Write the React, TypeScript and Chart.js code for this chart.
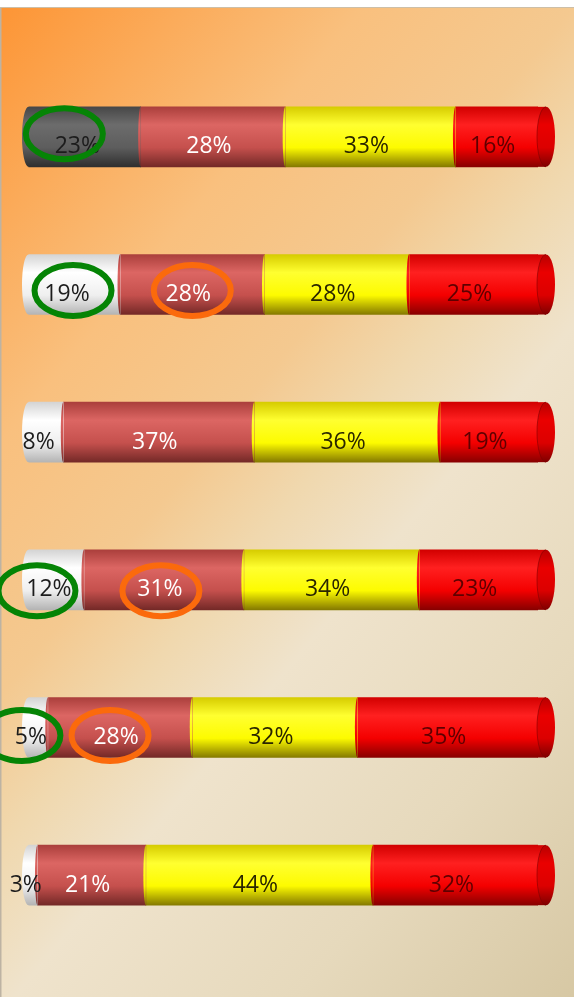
import React, { useEffect, useRef } from 'react';
import { Chart, registerables } from 'chart.js';

Chart.register(...registerables);

// ---- data ----
const categories = ['Row 1', 'Row 2', 'Row 3', 'Row 4', 'Row 5', 'Row 6'];
const seriesNames = ['Series 1', 'Series 2', 'Series 3', 'Series 4'];
const series1 = [23, 19, 8, 12, 5, 3];
const series2 = [28, 28, 37, 31, 28, 21];
const series3 = [33, 28, 36, 34, 32, 44];
const series4 = [16, 25, 19, 23, 35, 32];
const allSeries = [series1, series2, series3, series4];

// ---- styles ----
const SHADES: Record<string, string[]> = {
  gray: ['#474747', '#6c6c6c', '#5d5d5d', '#2f2f2f'],
  white: ['#d4d4d4', '#ffffff', '#efefef', '#b4b4b4'],
  indian: ['#ab3f3c', '#dc6663', '#c5504d', '#742927'],
  yellow: ['#d6cc00', '#ffff30', '#fdfb00', '#857a00'],
  red: ['#d20000', '#ff2020', '#f40000', '#880000'],
};
const CAP_SHADE = ['#b80000', '#ea0000', '#dc0000', '#7e0000'];
const firstSegmentShade = ['gray', 'white', 'white', 'white', 'white', 'white'];
const otherSegmentShade = ['indian', 'yellow', 'red'];
const LABEL_COLOR: Record<string, string> = {
  gray: '#1c1c1c',
  white: '#1c1c1c',
  indian: '#ffffff',
  yellow: '#2a2600',
  red: '#5e0000',
};
const GREEN = '#058405';
const ORANGE = '#fb6a0c';
// annotation rings drawn around selected value labels
const highlights = [
  { row: 0, seg: 0, color: GREEN, dx: -13, dy: -13 },
  { row: 1, seg: 0, color: GREEN, dx: 6, dy: -4 },
  { row: 1, seg: 1, color: ORANGE, dx: 4, dy: -4 },
  { row: 3, seg: 0, color: GREEN, dx: -12, dy: 1 },
  { row: 3, seg: 1, color: ORANGE, dx: 1, dy: 1 },
  { row: 4, seg: 0, color: GREEN, dx: -9, dy: -2 },
  { row: 4, seg: 1, color: ORANGE, dx: -6, dy: -2 },
];

function shadeName(di: number, row: number) {
  return di === 0 ? firstSegmentShade[row] : otherSegmentShade[di - 1];
}

function vGrad(ctx: CanvasRenderingContext2D, top: number, bottom: number, stops: string[]) {
  const g = ctx.createLinearGradient(0, top, 0, bottom);
  g.addColorStop(0, stops[0]);
  g.addColorStop(0.3, stops[1]);
  g.addColorStop(0.68, stops[2]);
  g.addColorStop(1, stops[3]);
  return g;
}

function bgGrad(ctx: CanvasRenderingContext2D, w: number, h: number) {
  const k = (1.2 * w + h) / 2.44;
  const g = ctx.createLinearGradient(0, 0, 1.2 * k, k);
  g.addColorStop(0, '#fd9535');
  g.addColorStop(0.13, '#fbab5a');
  g.addColorStop(0.26, '#f9c07e');
  g.addColorStop(0.41, '#f4c990');
  g.addColorStop(0.5, '#f0d8ae');
  g.addColorStop(0.6, '#efe3cc');
  g.addColorStop(0.8, '#e6d9bc');
  g.addColorStop(1, '#d7c8a4');
  return g;
}

const cylinderPlugin = {
  id: 'cylinder',
  beforeDraw(chart: any) {
    const { ctx, width, height } = chart;
    ctx.save();
    ctx.fillStyle = bgGrad(ctx, width, height);
    ctx.fillRect(0, 0, width, height);
    ctx.fillStyle = '#bdb3a3';
    ctx.fillRect(0, 0, 1.5, height);
    ctx.fillStyle = '#cdbfa8';
    ctx.fillRect(0, 0, width, 1);
    ctx.restore();
  },
  afterDatasetsDraw(chart: any) {
    const ctx: CanvasRenderingContext2D = chart.ctx;
    const nRows = chart.data.labels.length;
    const nSets = chart.data.datasets.length;
    const labelPos: { x: number; y: number }[][] = [];
    ctx.save();
    for (let row = 0; row < nRows; row++) {
      const els: any[] = [];
      for (let di = 0; di < nSets; di++) {
        els.push(chart.getDatasetMeta(di).data[row].getProps(['x', 'y', 'base', 'height'], true));
      }
      // rounded left end: repaint the background in the corners outside the ellipse
      const f = els[0];
      const fh = f.height / 2;
      const lrx = 6.5;
      ctx.save();
      ctx.beginPath();
      ctx.rect(f.base - 2, f.y - fh - 2, lrx + 2, f.height + 4);
      ctx.clip();
      ctx.beginPath();
      ctx.rect(0, 0, chart.width, chart.height);
      ctx.ellipse(f.base + lrx, f.y, lrx, fh, 0, 0, Math.PI * 2);
      ctx.clip('evenodd');
      ctx.fillStyle = bgGrad(ctx, chart.width, chart.height);
      ctx.fillRect(0, 0, chart.width, chart.height);
      ctx.restore();
      // slightly curved faces between segments
      els.forEach((e, di) => {
        if (di === 0) return;
        const h = e.height / 2;
        ctx.beginPath();
        ctx.ellipse(e.base, e.y, 2.5, h, 0, Math.PI / 2, Math.PI * 1.5);
        ctx.closePath();
        ctx.fillStyle = vGrad(ctx, e.y - h, e.y + h, SHADES[shadeName(di, row)]);
        ctx.fill();
      });
      // end cap (cylinder side continues a few px, then the elliptical face)
      const last = els[els.length - 1];
      const lh = last.height / 2;
      const ext = 8;
      ctx.fillStyle = vGrad(ctx, last.y - lh, last.y + lh, SHADES[shadeName(nSets - 1, row)]);
      ctx.fillRect(last.x - 0.5, last.y - lh, ext + 0.5, last.height);
      ctx.beginPath();
      ctx.ellipse(last.x + ext, last.y, 9, lh, 0, 0, Math.PI * 2);
      ctx.fillStyle = vGrad(ctx, last.y - lh, last.y + lh, CAP_SHADE);
      ctx.fill();
      ctx.beginPath();
      ctx.ellipse(last.x + ext, last.y, 9, lh, 0, Math.PI / 2, Math.PI * 1.5);
      ctx.strokeStyle = 'rgba(120,0,0,0.55)';
      ctx.lineWidth = 1;
      ctx.stroke();
      labelPos.push(els.map((e) => ({ x: (e.x + e.base) / 2 - 4, y: e.y + 10 })));
    }
    // value labels
    ctx.font = '23px "Open Sans", "DejaVu Sans", sans-serif';
    ctx.textAlign = 'center';
    ctx.textBaseline = 'middle';
    for (let row = 0; row < nRows; row++) {
      for (let di = 0; di < nSets; di++) {
        const v = allSeries[di][row];
        const p = labelPos[row][di];
        ctx.fillStyle = LABEL_COLOR[shadeName(di, row)];
        ctx.fillText(v + '%', p.x, p.y);
      }
    }
    // annotation rings
    ctx.lineWidth = 6;
    highlights.forEach((hl) => {
      const p = labelPos[hl.row][hl.seg];
      ctx.beginPath();
      ctx.ellipse(p.x + hl.dx, p.y + hl.dy, 38.5, 25.5, 0, 0, Math.PI * 2);
      ctx.strokeStyle = hl.color;
      ctx.stroke();
    });
    ctx.restore();
  },
};

export default function App() {
  const ref = useRef<HTMLCanvasElement | null>(null);
  useEffect(() => {
    if (!ref.current) return;
    const datasets = allSeries.map((vals, di) => ({
      label: seriesNames[di],
      data: vals,
      borderWidth: 0,
      barThickness: 60,
      backgroundColor: (c: any) => {
        const chart = c.chart;
        const row = c.dataIndex;
        const stops = SHADES[shadeName(di, row)];
        if (!chart.chartArea || !chart.scales.y || row === undefined) return stops[2];
        const y = chart.scales.y.getPixelForValue(row);
        return vGrad(chart.ctx, y - 30, y + 30, stops);
      },
    }));
    const chart = new Chart(ref.current, {
      type: 'bar',
      data: { labels: categories, datasets },
      options: {
        indexAxis: 'y',
        animation: false,
        responsive: false,
        devicePixelRatio: 1,
        layout: { padding: { left: 22, right: 36, top: 56, bottom: 48 } },
        scales: {
          x: { stacked: true, min: 0, max: 100, display: false },
          y: { stacked: true, display: false },
        },
        plugins: { legend: { display: false }, tooltip: { enabled: false } },
      },
      plugins: [cylinderPlugin],
    } as any);
    return () => chart.destroy();
  }, []);
  return (
    <div style={{ position: 'absolute', left: 0, top: 7, width: 574, height: 990 }}>
      <canvas ref={ref} width={574} height={990} style={{ width: 574, height: 990, display: 'block' }} />
    </div>
  );
}
